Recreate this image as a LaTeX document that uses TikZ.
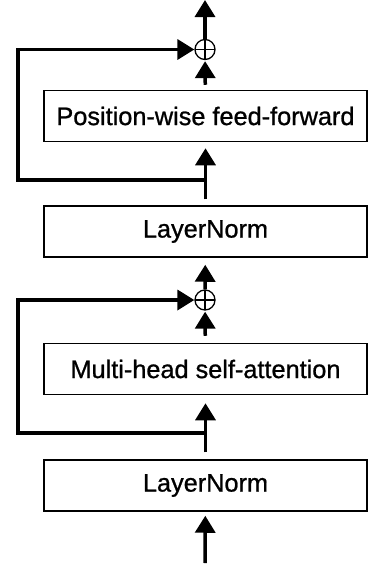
\documentclass[tikz,border=0pt]{standalone}
\usepackage{fontspec}
\setmainfont{Liberation Sans}
\newfontfamily\boxfont[FakeBold=0.9]{Liberation Sans}
\usetikzlibrary{arrows.meta,calc}
\tikzset{
  blk/.style={draw, line width=1.5pt, minimum width=323pt, minimum height=51pt, inner sep=0pt, font=\boxfont\fontsize{25.3}{28}\selectfont},
  addop/.style={draw, circle, line width=1.3pt, minimum size=20pt, inner sep=0pt,
    path picture={\draw[line width=1.3pt] (path picture bounding box.north) -- (path picture bounding box.south) (path picture bounding box.west) -- (path picture bounding box.east);}},
  conn/.style={line width=3.5pt},
  arr/.style={conn, -{Triangle[length=17pt,width=20pt]}},
}
\begin{document}
\begin{tikzpicture}[x=1pt,y=-1pt]
\useasboundingbox (0,0) rectangle (372,574);
\node[blk] (pff) at (205.5,116) {Position-wise feed-forward};
\node[blk] (ln2) at (205.5,231.5) {LayerNorm};
\node[blk] (mha) at (205.5,369) {Multi-head self-attention};
\node[blk] (ln1) at (205.5,485.5) {LayerNorm};
\node[addop] (add2) at (205,49.5) {};
\node[addop] (add1) at (205,300) {};
\coordinate (inp) at (205,563);
\coordinate (outp) at (205,0);
\coordinate (b1) at (205,433);
\coordinate (l1) at (18,433);
\coordinate (b2) at (205,180);
\coordinate (l2) at (18,180);
% connectors
\draw[arr, shorten >=4pt] (inp) -- (ln1);
\draw[arr, shorten <=7pt, shorten >=8pt] (ln1) -- (mha);
\draw[arr, shorten <=7pt, shorten >=1pt] (mha) -- (add1);
\draw[arr, shorten >=7pt] (add1) -- (ln2);
\draw[arr, shorten <=6pt, shorten >=6pt] (ln2) -- (pff);
\draw[arr, shorten <=5pt, shorten >=1pt] (pff) -- (add2);
\draw[arr] (add2) -- (outp);
\draw[arr] (b1) -- (l1) |- (add1);
\draw[arr] (b2) -- (l2) |- (add2);
\end{tikzpicture}
\end{document}
